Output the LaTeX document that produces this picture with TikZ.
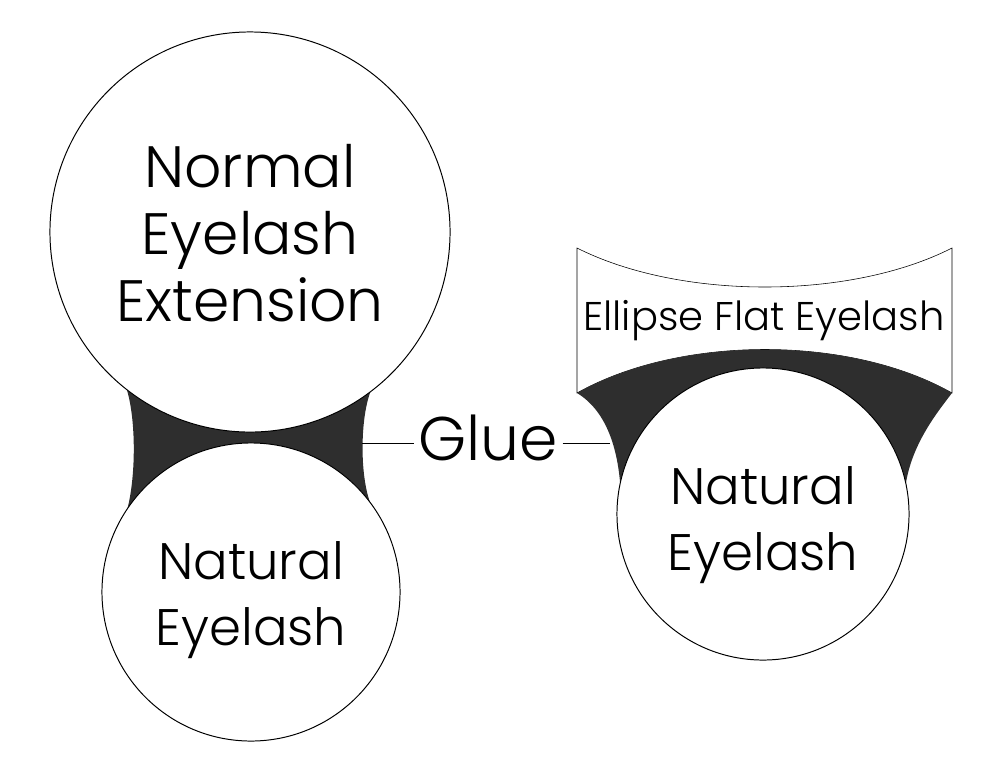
\documentclass[tikz,border=0pt]{standalone}
\usepackage{fontspec}
\IfFontExistsTF{Poppins Light}{\setmainfont{Poppins Light}}{\setmainfont{Poppins}}
\usepackage{tikz}
\usetikzlibrary{backgrounds}
\definecolor{gluecolor}{HTML}{2E2E2E}

\begin{document}
\begin{tikzpicture}[x=0.025cm, y=-0.025cm, line width=0.7pt,
  lash/.style={draw, circle, fill=white, inner sep=0pt, outer sep=0pt},
  lashtext/.style={align=center, font=\fontsize{36.5}{47}\selectfont}]
  \useasboundingbox (0,0) rectangle (1000,771);

  % eyelash circles
  \node[lash, minimum size=10cm] (ext) at (250,232) {};
  \node[lash, minimum size=7.45cm] (natl) at (251,592) {};
  \node[lash, minimum size=7.3cm] (natr) at (763,514) {};
  \node[align=center, font=\fontsize{41.5}{47.7}\selectfont] (extlbl) at ([yshift=-1pt]ext.center) {Normal\\Eyelash\\Extension};
  \node[lashtext] (natllbl) at ([yshift=-6pt]natl.center) {Natural\\Eyelash};
  \node[lashtext] (natrlbl) at ([yshift=-8pt]natr.center) {Natural\\Eyelash};

  % flat lash box
  \coordinate (tl) at (577,248);
  \coordinate (tr) at (952,248);
  \coordinate (bl) at (577,393);
  \coordinate (br) at (952,393);
  \node[anchor=base, font=\fontsize{28.5}{34}\selectfont] (flat) at (764,330) {Ellipse Flat Eyelash};

  % glue label
  \node[anchor=base, inner sep=3pt, font=\fontsize{43.8}{50}\selectfont] (glue) at (488,460) {Glue};
  \coordinate (gl) at (362,443);
  \coordinate (gr) at (610,443);
  \draw (gl) -- (gl -| glue.west);
  \draw (glue.east |- gr) -- (gr);

  \begin{scope}[on background layer]
    \draw[fill=white] (bl) -- (tl) .. controls (680,300) and (850,300) .. (tr) -- (br)
      .. controls (850,335) and (680,335) .. (bl) -- cycle;
    % glue between the two circles
    \fill[gluecolor] (ext.-128.7) .. controls (136,420) and (136,475) .. (natl.146)
      -- (natl.center) -- (natl.37.7) .. controls (360,475) and (360,420) .. (ext.-53.8)
      -- (ext.center) -- cycle;
    % glue under the flat lash
    \fill[gluecolor] (bl) .. controls (680,335) and (850,335) .. (br)
      .. controls (935,415) and (912,445) .. (natr.12) -- (natr.center) -- (natr.168)
      .. controls (617,445) and (605,410) .. (bl) -- cycle;
  \end{scope}
\end{tikzpicture}
\end{document}
